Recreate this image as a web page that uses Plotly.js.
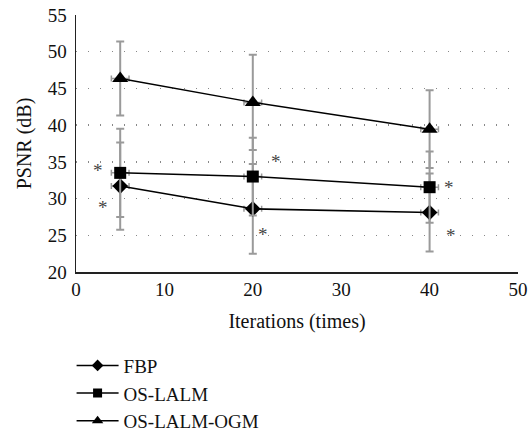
<!DOCTYPE html>
<html>
<head>
<meta charset="utf-8">
<script src="https://cdn.plot.ly/plotly-3.0.1.min.js"></script>
<style>html,body{margin:0;padding:0;background:#fff;}#chart{width:528px;height:434px;}</style>
</head>
<body>
<div id="chart"></div>
<script>
const iterations = [5, 20, 40];
const seriesNames = ["FBP", "OS-LALM", "OS-LALM-OGM"];
const fbp = [31.7, 28.6, 28.1];
const fbpErr = [5.95, 6.1, 5.3];
const osLalm = [33.5, 33.0, 31.55];
const osLalmErr = [6.0, 5.3, 4.85];
const ogm = [46.35, 43.1, 39.45];
const ogmErr = [5.05, 6.5, 5.3];
const iterErr = 1;
const starX = [2.5, 3.0, 22.6, 21.2, 42.2, 42.4];
const starY = [34.35, 29.36, 35.6, 25.6, 32.1, 25.5];
const xTicks = [0, 10, 20, 30, 40, 50];
const yTicks = [20, 25, 30, 35, 40, 45, 50, 55];

const FONT = "Liberation Serif, Times New Roman, serif";
const symbols = ["diamond", "square", "triangle-up"];
const sizes = [12, 12, 14];
const legendSizes = [9, 9, 10];
const ys = [fbp, osLalm, ogm];
const errs = [fbpErr, osLalmErr, ogmErr];

const traces = ys.map((y, i) => ({
  type: "scatter",
  mode: "lines+markers",
  name: seriesNames[i],
  showlegend: false,
  x: iterations,
  y: y,
  line: {color: "#000", width: 1.5},
  marker: {symbol: symbols[i], size: sizes[i], color: "#000"},
  error_y: {type: "data", array: errs[i], visible: true, color: "#9a9a9a", thickness: 2, width: 4},
  error_x: {type: "constant", value: iterErr, visible: true, color: "#9a9a9a", thickness: 1.5, width: 3}
}));

const legendTraces = seriesNames.map((n, i) => ({
  type: "scatter",
  mode: "lines+markers",
  name: n,
  x: [null], y: [null],
  line: {color: "#000", width: 1.5},
  marker: {symbol: symbols[i], size: legendSizes[i], color: "#000"}
}));

const annotations = starX.map((x, i) => ({
  x: x, y: starY[i], xref: "x", yref: "y",
  text: "*", showarrow: false,
  font: {family: FONT, size: 19, color: "#444"},
  xanchor: "center", yanchor: "middle", yshift: -4
}));

const layout = {
  width: 528, height: 434,
  margin: {l: 76, r: 10, t: 15, b: 162, autoexpand: false},
  paper_bgcolor: "#fff", plot_bgcolor: "#fff",
  font: {family: FONT, size: 19, color: "#111"},
  showlegend: true,
  legend: {
    x: -0.01, y: -0.29, xanchor: "left", yanchor: "top",
    orientation: "v", itemwidth: 42,
    font: {family: FONT, size: 19, color: "#111"},
    bgcolor: "rgba(0,0,0,0)"
  },
  xaxis: {
    range: [0, 50], tickvals: xTicks, ticktext: xTicks.map(String),
    showgrid: false, zeroline: false,
    showline: true, linecolor: "#222", linewidth: 1.5,
    ticks: "", ticklabelstandoff: 0,
    tickfont: {family: FONT, size: 19, color: "#111"},
    title: {text: "Iterations (times)", font: {family: FONT, size: 20, color: "#111"}, standoff: 14}
  },
  yaxis: {
    range: [20, 55], tickvals: yTicks, ticktext: yTicks.map(String),
    showgrid: true, gridcolor: "#888", gridwidth: 1.3, griddash: "1.3px,10.7px",
    zeroline: false,
    showline: true, linecolor: "#222", linewidth: 1.5,
    ticks: "", ticklabelstandoff: 4,
    tickfont: {family: FONT, size: 19, color: "#111"},
    title: {text: "PSNR (dB)", font: {family: FONT, size: 20, color: "#111"}, standoff: 10}
  },
  annotations: annotations
};

Plotly.newPlot("chart", traces.concat(legendTraces), layout, {displayModeBar: false, staticPlot: true});
</script>
</body>
</html>
